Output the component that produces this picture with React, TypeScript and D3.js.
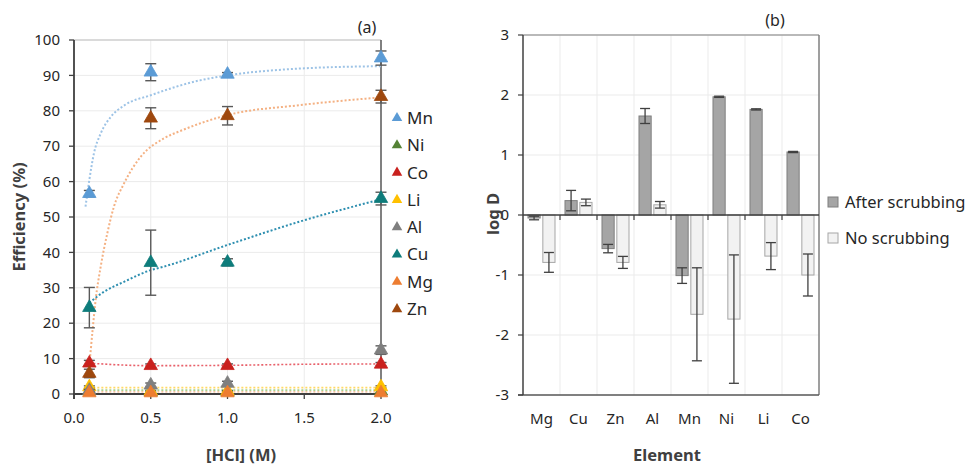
import React from 'react';
import * as d3 from 'd3';

// ---------- Panel (a) data ----------
const hcl = [0.1, 0.5, 1.0, 2.0];
const seriesNames = ['Mn', 'Ni', 'Co', 'Li', 'Al', 'Cu', 'Mg', 'Zn'];
const seriesColors = ['#5B9BD5', '#548235', '#C9211E', '#FFC000', '#7F7F7F', '#0E7C7B', '#ED7D31', '#9E480E'];
const mnEff = [56.6, 90.9, 90.3, 94.9];
const mnErr = [0.9, 2.4, 0.5, 2.0];
const niEff = [0.8, 0.6, 0.6, 0.8];
const niErr = [0, 0, 0, 0];
const coEff = [8.7, 8.0, 8.0, 8.4];
const coErr = [0.8, 0.5, 0.5, 0.5];
const liEff = [2.0, 0.8, 0.8, 2.0];
const liErr = [0.3, 0.2, 0.2, 0.3];
const alEff = [1.0, 2.5, 3.0, 12.4];
const alErr = [0.3, 0.6, 0.6, 1.2];
const cuEff = [24.4, 37.1, 37.2, 55.2];
const cuErr = [5.7, 9.2, 1.0, 1.8];
const mgEff = [0.3, 0.3, 0.3, 0.3];
const mgErr = [0, 0, 0, 0];
const znEff = [5.8, 77.9, 78.6, 84.0];
const znErr = [1.2, 2.95, 2.6, 1.8];

// trend lines
const mnTrendX = [0.075, 0.1, 0.13, 0.174, 0.24, 0.33, 0.5, 0.82, 1.0, 1.5, 2.0];
const mnTrendY = [52.9, 60.5, 68.0, 73.6, 78.3, 81.6, 84.4, 88.6, 90.0, 92.0, 92.6];
const znTrendX = [0.1, 0.104, 0.119, 0.141, 0.174, 0.217, 0.26, 0.326, 0.434, 0.586, 0.71, 1.0, 1.47, 2.0];
const znTrendY = [8.5, 10.1, 17.1, 26.6, 36.0, 45.4, 52.9, 59.5, 67.0, 72.2, 74.6, 78.8, 81.6, 83.8];
const cuTrendX = [0.1, 0.2, 0.326, 0.5, 0.586, 1.0, 1.47, 2.0];
const cuTrendY = [25.8, 29.0, 31.7, 35.0, 36.0, 42.1, 48.7, 55.0];
const coTrendX = [0.1, 0.5, 1.0, 1.5, 2.0];
const coTrendY = [8.7, 8.0, 8.1, 8.4, 8.5];
const liTrendX = [0.1, 2.0];
const liTrendY = [1.8, 1.8];
const niTrendX = [0.1, 2.0];
const niTrendY = [1.1, 1.1];
const mgTrendX = [0.1, 2.0];
const mgTrendY = [0.6, 0.6];

const xTicksA = [0, 0.5, 1.0, 1.5, 2.0];
const yTicksA = [0, 10, 20, 30, 40, 50, 60, 70, 80, 90, 100];

// ---------- Panel (b) data ----------
const elements = ['Mg', 'Cu', 'Zn', 'Al', 'Mn', 'Ni', 'Li', 'Co'];
const groups = ['After scrubbing', 'No scrubbing'];
const afterLogD = [-0.05, 0.24, -0.56, 1.65, -1.01, 1.97, 1.76, 1.05];
const afterErr = [0.03, 0.17, 0.07, 0.125, 0.13, 0.01, 0.01, 0.01];
const noLogD = [-0.79, 0.21, -0.79, 0.17, -1.655, -1.735, -0.685, -1.0];
const noErr = [0.165, 0.055, 0.1, 0.055, 0.775, 1.07, 0.225, 0.35];
const yTicksB = [-3, -2, -1, 0, 1, 2, 3];

const FONT = "'Noto Sans', 'Open Sans', sans-serif";

const xA = d3.scaleLinear().domain([0, 2]).range([74, 381]);
const yA = d3.scaleLinear().domain([0, 100]).range([394, 40]);

const yB = d3.scaleLinear().domain([-3, 3]).range([395, 35]);
const xB = d3.scaleBand<string>().domain(elements).range([523, 819]).paddingInner(0.27).paddingOuter(0.135);
const xSub = d3.scaleBand<string>().domain(groups).range([0, xB.bandwidth()]).paddingInner(0.18);

const tri = d3.symbol().type(d3.symbolTriangle).size(78)() as string;
const triSmall = d3.symbol().type(d3.symbolTriangle).size(48)() as string;

const series = [
  { vals: mnEff, err: mnErr },
  { vals: niEff, err: niErr },
  { vals: coEff, err: coErr },
  { vals: liEff, err: liErr },
  { vals: alEff, err: alErr },
  { vals: cuEff, err: cuErr },
  { vals: mgEff, err: mgErr },
  { vals: znEff, err: znErr },
];

const trends = [
  { xs: niTrendX, ys: niTrendY, color: '#A9D18E', w: 1.6 },
  { xs: liTrendX, ys: liTrendY, color: '#FFD966', w: 1.6 },
  { xs: mgTrendX, ys: mgTrendY, color: '#F4B183', w: 1.4 },
  { xs: coTrendX, ys: coTrendY, color: '#E8606A', w: 1.6 },
  { xs: mnTrendX, ys: mnTrendY, color: '#9DC3E6', w: 2 },
  { xs: znTrendX, ys: znTrendY, color: '#F4B183', w: 2 },
  { xs: cuTrendX, ys: cuTrendY, color: '#2E8FB0', w: 2 },
];

const lineA = d3
  .line<[number, number]>()
  .x((d) => xA(d[0]))
  .y((d) => yA(d[1]))
  .curve(d3.curveMonotoneX);

export default function App() {
  const groupVals = [afterLogD, noLogD];
  const groupErrs = [afterErr, noErr];
  const groupFill = ['#A5A5A5', '#F2F2F2'];
  const groupStroke = ['#7F7F7F', '#A6A6A6'];
  return (
    <svg
      width={969}
      height={467}
      style={{ position: 'absolute', left: 0, top: 0, background: '#fff' }}
      fontFamily={FONT}
    >
      {/* ================= Panel (a) ================= */}
      <g>
        {yTicksA.map((t) => (
          <line key={'gy' + t} x1={xA(0)} x2={xA(2)} y1={yA(t)} y2={yA(t)} stroke="#EBEBEB" strokeWidth={1} />
        ))}
        {xTicksA.map((t) => (
          <line key={'gx' + t} x1={xA(t)} x2={xA(t)} y1={yA(0)} y2={yA(100)} stroke="#EBEBEB" strokeWidth={1} />
        ))}
        <line x1={xA(0)} x2={xA(2)} y1={yA(100)} y2={yA(100)} stroke="#BFBFBF" strokeWidth={1} />
        <line x1={xA(2)} x2={xA(2)} y1={yA(100)} y2={yA(0)} stroke="#595959" strokeWidth={1.5} />
        <line x1={xA(0)} x2={xA(0)} y1={yA(100)} y2={yA(0) + 5} stroke="#404040" strokeWidth={1.8} />
        <line x1={xA(0) - 1} x2={xA(2)} y1={yA(0)} y2={yA(0)} stroke="#404040" strokeWidth={1.8} />
        {yTicksA.map((t) => (
          <g key={'ty' + t}>
            <line x1={xA(0) - 5} x2={xA(0)} y1={yA(t)} y2={yA(t)} stroke="#404040" strokeWidth={1.3} />
            <text x={xA(0) - 14} y={yA(t)} dy="0.35em" textAnchor="end" fontSize={15} fill="#262626">
              {t}
            </text>
          </g>
        ))}
        {xTicksA.map((t) => (
          <g key={'tx' + t}>
            <line x1={xA(t)} x2={xA(t)} y1={yA(0)} y2={yA(0) + 5} stroke="#404040" strokeWidth={1.3} />
            <text x={xA(t)} y={418} dy="0.35em" textAnchor="middle" fontSize={15} fill="#262626">
              {t.toFixed(1)}
            </text>
          </g>
        ))}
        {trends.map((tr, i) => (
          <path
            key={'tr' + i}
            d={lineA(tr.xs.map((x, j) => [x, tr.ys[j]] as [number, number])) as string}
            fill="none"
            stroke={tr.color}
            strokeWidth={tr.w}
            strokeDasharray="2 2"
          />
        ))}
        {series.map((s, si) => (
          <g key={'s' + si}>
            {s.vals.map((v, j) =>
              s.err[j] > 0 ? (
                <g key={'e' + j} stroke="#595959" strokeWidth={1.4}>
                  <line x1={xA(hcl[j])} x2={xA(hcl[j])} y1={yA(v - s.err[j])} y2={yA(v + s.err[j])} />
                  <line x1={xA(hcl[j]) - 5.5} x2={xA(hcl[j]) + 5.5} y1={yA(v - s.err[j])} y2={yA(v - s.err[j])} />
                  <line x1={xA(hcl[j]) - 5.5} x2={xA(hcl[j]) + 5.5} y1={yA(v + s.err[j])} y2={yA(v + s.err[j])} />
                </g>
              ) : null
            )}
            {s.vals.map((v, j) => (
              <path
                key={'m' + j}
                d={tri}
                transform={`translate(${xA(hcl[j])},${yA(v)})`}
                fill={seriesColors[si]}
                stroke={seriesColors[si]}
                strokeWidth={0.8}
              />
            ))}
          </g>
        ))}
        {seriesNames.map((n, i) => (
          <g key={'lg' + n} transform={`translate(397,${118 + i * 27.3})`}>
            <path d={triSmall} fill={seriesColors[i]} />
            <text x={10} y={0} dy="0.35em" fontSize={17} fill="#262626">
              {n}
            </text>
          </g>
        ))}
        <text x={367} y={27} dy="0.35em" textAnchor="middle" fontSize={16} fill="#262626">
          (a)
        </text>
        <text
          transform="translate(19,217) rotate(-90)"
          textAnchor="middle"
          dy="0.35em"
          fontSize={16.5}
          fontWeight="bold"
          fill="#404040"
        >
          Efficiency (%)
        </text>
        <text x={241} y={455} dy="0.35em" textAnchor="middle" fontSize={16.5} fontWeight="bold" fill="#404040">
          [HCl] (M)
        </text>
      </g>

      {/* ================= Panel (b) ================= */}
      <g>
        {yTicksB.map((t) => (
          <line key={'gby' + t} x1={523} x2={819} y1={yB(t)} y2={yB(t)} stroke="#EBEBEB" strokeWidth={1} />
        ))}
        {elements.slice(1).map((e) => (
          <line
            key={'gbx' + e}
            x1={(xB(e) as number) - xB.step() * 0.135}
            x2={(xB(e) as number) - xB.step() * 0.135}
            y1={yB(3)}
            y2={yB(-3)}
            stroke="#EBEBEB"
            strokeWidth={1}
          />
        ))}
        {elements.map((e, i) =>
          groups.map((g, gi) => {
            const v = groupVals[gi][i];
            const x0 = (xB(e) as number) + (xSub(g) as number);
            const y0 = Math.min(yB(v), yB(0));
            const h = Math.abs(yB(v) - yB(0));
            return (
              <rect
                key={'bar' + e + gi}
                x={x0}
                y={y0}
                width={xSub.bandwidth()}
                height={h}
                fill={groupFill[gi]}
                stroke={groupStroke[gi]}
                strokeWidth={1}
              />
            );
          })
        )}
        <line x1={523} x2={819} y1={yB(3)} y2={yB(3)} stroke="#7F7F7F" strokeWidth={1.2} />
        <line x1={819} x2={819} y1={yB(3)} y2={yB(-3)} stroke="#7F7F7F" strokeWidth={1.5} />
        <line x1={518} x2={819} y1={yB(-3)} y2={yB(-3)} stroke="#595959" strokeWidth={1.5} />
        <line x1={523} x2={523} y1={yB(3)} y2={yB(-3)} stroke="#404040" strokeWidth={1.5} />
        <line x1={523} x2={819} y1={yB(0)} y2={yB(0)} stroke="#404040" strokeWidth={1.5} />
        {elements.slice(1).map((e) => (
          <line
            key={'tbx' + e}
            x1={(xB(e) as number) - xB.step() * 0.135}
            x2={(xB(e) as number) - xB.step() * 0.135}
            y1={yB(0)}
            y2={yB(0) + 5}
            stroke="#404040"
            strokeWidth={1.2}
          />
        ))}
        {elements.map((e, i) =>
          groups.map((g, gi) => {
            const v = groupVals[gi][i];
            const er = groupErrs[gi][i];
            const cx = (xB(e) as number) + (xSub(g) as number) + xSub.bandwidth() / 2;
            return (
              <g key={'eb' + e + gi} stroke="#404040" strokeWidth={1.3}>
                <line x1={cx} x2={cx} y1={yB(v - er)} y2={yB(v + er)} />
                <line x1={cx - 5} x2={cx + 5} y1={yB(v - er)} y2={yB(v - er)} />
                <line x1={cx - 5} x2={cx + 5} y1={yB(v + er)} y2={yB(v + er)} />
              </g>
            );
          })
        )}
        {yTicksB.map((t) => (
          <g key={'tby' + t}>
            <line x1={518} x2={523} y1={yB(t)} y2={yB(t)} stroke="#404040" strokeWidth={1.2} />
            <text x={509} y={yB(t)} dy="0.35em" textAnchor="end" fontSize={15} fill="#262626">
              {t}
            </text>
          </g>
        ))}
        {elements.map((e) => (
          <text
            key={'lb' + e}
            x={(xB(e) as number) + xB.bandwidth() / 2}
            y={419}
            dy="0.35em"
            textAnchor="middle"
            fontSize={15}
            fill="#262626"
          >
            {e}
          </text>
        ))}
        {groups.map((g, gi) => (
          <g key={'lgb' + g} transform={`translate(828,${202 + gi * 36})`}>
            <rect x={0} y={-5} width={10} height={10} fill={groupFill[gi]} stroke={groupStroke[gi]} strokeWidth={1} />
            <text x={17} y={0} dy="0.35em" fontSize={16.5} fill="#262626">
              {g}
            </text>
          </g>
        ))}
        <text x={775} y={20} dy="0.35em" textAnchor="middle" fontSize={16} fill="#262626">
          (b)
        </text>
        <text
          transform="translate(493,214) rotate(-90)"
          textAnchor="middle"
          dy="0.35em"
          fontSize={16.5}
          fontWeight="bold"
          fill="#404040"
        >
          log D
        </text>
        <text x={667} y={455} dy="0.35em" textAnchor="middle" fontSize={16.5} fontWeight="bold" fill="#404040">
          Element
        </text>
      </g>
    </svg>
  );
}
